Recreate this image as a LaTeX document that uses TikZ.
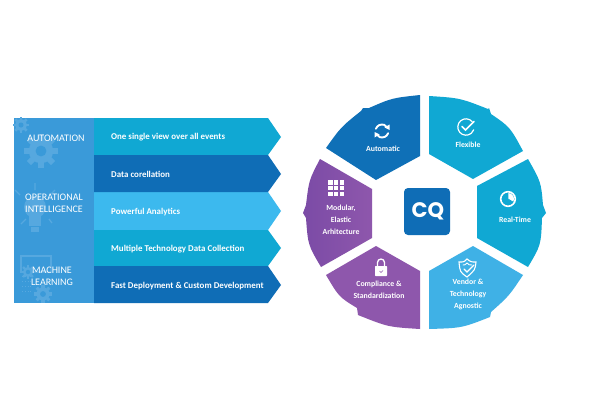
\documentclass[tikz,border=0pt]{standalone}
\usepackage{fontspec}
\setmainfont{Carlito}
\newfontfamily\cqfont{Poppins}
\definecolor{cteal}{HTML}{10A8D3}
\definecolor{cblue}{HTML}{0F6DB6}
\definecolor{clight}{HTML}{3CB9EE}
\definecolor{cpanel}{HTML}{3A9AD9}
\definecolor{cicon}{HTML}{56A8DF}
\definecolor{cpurp}{HTML}{8E57AC}
\definecolor{cpurpd}{HTML}{7B4BA6}
\definecolor{cvend}{HTML}{3FB1E6}
\tikzset{
 x=1pt,y=-1pt,
 bartext/.style={text=white,font=\bfseries\fontsize{8.9}{11}\selectfont,anchor=west,inner sep=0pt},
 paneltext/.style={text=white,font=\fontsize{10}{12}\selectfont,align=center,inner sep=0pt},
 segtext/.style={text=white,font=\bfseries\fontsize{7.8}{11.8}\selectfont,align=center,inner sep=0pt},
 wico/.style={draw=white,line width=1.4pt,fill=none,line cap=round},
 up/.style={y=1pt},
}
\newcommand{\gearshape}[4]{% x y radius colour
 \fill[#4] (#1,#2) circle (#3*0.72);
 \foreach \a in {0,45,...,315}{
  \fill[#4,shift={(#1,#2)},rotate=\a] (-#3*0.17,0) rectangle (#3*0.17,-#3);
 }
 \fill[cpanel] (#1,#2) circle (#3*0.32);
}
\begin{document}
\begin{tikzpicture}
\useasboundingbox (0,0) rectangle (594,420);
\fill[white] (0,0) rectangle (594,420);
% left panel
\fill[cpanel] (14,118) rectangle (94,303);
\gearshape{41}{151}{17}{cicon}
\gearshape{21}{125}{8}{cicon}
% bulb
\fill[cicon] (35,207) circle (11);
\fill[cicon] (29,214) rectangle (41,226);
\fill[cicon] (31,227) rectangle (39,232);
\draw[cicon,line width=1.3pt] (35,183) -- (35,190) (15,190) -- (20,195) (55,190) -- (50,195) (21,224) -- (26,219) (49,219) -- (52,223);
% monitor
\draw[cicon,line width=1.3pt] (21,256) rectangle (51,272);
\gearshape{28}{272}{7}{cicon}
\gearshape{43}{294}{9}{cicon}
\foreach \yy in {276,281,286,291}{\draw[cicon,line width=.8pt,dotted] (22,\yy) -- (31,\yy);}
% bars
\fill[cteal] (94,118) -- (268,118) -- (281,137) -- (268,155) -- (94,155) -- cycle;
\fill[clight] (94,192) -- (268,192) -- (281,211) -- (268,230) -- (94,230) -- cycle;
\fill[cblue] (94,155) -- (268,155) -- (281,174) -- (268,192) -- (94,192) -- cycle;
\fill[cteal] (94,230) -- (268,230) -- (281,248) -- (268,266) -- (94,266) -- cycle;
\fill[cblue] (94,266) -- (268,266) -- (281,285) -- (268,303) -- (94,303) -- cycle;
\node[paneltext] (pa) at (56,138.5) {AUTOMATION};
\node[paneltext] (pb) at (54,203) {OPERATIONAL\\INTELLIGENCE};
\node[paneltext] (pc) at (52,276) {MACHINE\\LEARNING};
\node[bartext] (b1) at (111,137.6) {One single view over all events};
\node[bartext] (b2) at (111,174.6) {Data corellation};
\node[bartext] (b3) at (111,211.6) {Powerful Analytics};
\node[bartext] (b4) at (111,249.6) {Multiple Technology Data Collection};
\node[bartext] (b5) at (111,285.6) {Fast Deployment \& Custom Development};
% segments
\fill[cblue!95!cteal] (420,95) -- (420,156) -- (376,180) -- (326,148) .. controls (341,127) .. (361,111) -- (363,108) -- (369,108) .. controls (392,98) .. (420,95) -- cycle;
\fill[cteal] (429,96) .. controls (460,98) .. (488,109) -- (489,108) -- (491,114) .. controls (510,127) .. (523,151) -- (473,179) -- (429,154) -- cycle;
\fill[cteal] (477,186) -- (528,159) .. controls (541,182) .. (543,205) -- (546,213) -- (542,218) .. controls (541,245) .. (528,267) -- (477,238) -- cycle;
\fill[cvend] (473,246) -- (523,275) .. controls (509,296) .. (491,312) -- (490,317) .. controls (462,328) .. (429,329) -- (429,271) -- cycle;
\fill[cpurp] (376,246) -- (420,271) -- (420,329) .. controls (388,327) .. (358,315) -- (357,308) .. controls (339,297) .. (326,275) -- cycle;
\shade[left color=cpurpd,right color=cpurp] (320,159) -- (372,189) -- (372,238) -- (321,267) .. controls (308,245) .. (306,218) -- (303,213) -- (306,205) .. controls (309,180) .. (320,159) -- cycle;
% centre
\fill[cblue,rounded corners=4pt] (404,188) rectangle (450,235);
\node[text=white,inner sep=0pt,font=\cqfont\bfseries\fontsize{21}{24}\selectfont] (cq) at (428,211.5) {CQ};
% labels
\node[segtext] (s1) at (383,149) {Automatic};
\node[segtext] (s2) at (468,145) {Flexible};
\node[segtext] (s3) at (515,220) {Real-Time};
\node[segtext] (s4) at (468,294.5) {Vendor \&\\Technology\\Agnostic};
\node[segtext] (s5) at (379,290) {Compliance \&\\Standardization};
\node[segtext] (s6) at (341,219.5) {Modular,\\Elastic\\Arhitecture};
% refresh icon
\begin{scope}[shift={(382,131)},up]
 \draw[wico,line width=1.9pt] (160:6.5) arc (160:30:6.5);
 \draw[wico,line width=1.9pt] (-20:6.5) arc (-20:-150:6.5);
 \fill[white] (7.5,1) -- (7.5,6.5) -- (2.5,3.5) -- cycle;
 \fill[white] (-7.5,-1) -- (-7.5,-6.5) -- (-2.5,-3.5) -- cycle;
\end{scope}
% check circle
\begin{scope}[shift={(466,127)},up]
 \draw[wico,line width=1.2pt] (40:8.2) arc (40:340:8.2);
 \draw[wico,line width=1.7pt] (-4,0.5) -- (-0.5,-3) -- (8,5.5);
\end{scope}
% clock
\begin{scope}[shift={(508,199)},up]
 \draw[wico,line width=1.6pt] (0,0) circle (7.3);
 \fill[white] (0,0) -- (0,6) arc (90:-30:6) -- cycle;
 \draw[cteal,line width=.7pt] (0,6) -- (0,0) -- (5,-3);
\end{scope}
% shield
\begin{scope}[shift={(467,267)},up]
 \draw[wico,line width=1.1pt] (-8,5) .. controls (-3,5) .. (0,8) .. controls (4,5) .. (9,5) .. controls (8,-3) .. (0,-10) .. controls (-7,-5) .. (-8,5) -- cycle;
 \draw[wico,line width=.9pt] (-4,2) .. controls (-2,2) .. (0,4) .. controls (2,2) .. (5,2);
 \draw[wico,line width=1.1pt] (-3,-2) -- (0,-5) -- (7,2);
\end{scope}
% lock
\fill[white,rounded corners=.6pt] (375,266) rectangle (387,276);
\begin{scope}[shift={(381,266)},up]
 \draw[wico,line width=1.3pt] (-3.5,0) -- (-3.5,3.5) arc (180:0:3.5) -- (3.5,0);
\end{scope}
\draw[cpurp,line width=.6pt] (379.5,271) -- (381,272.5) -- (383,270.5);
% grid
\foreach \i in {-1,0,1}{\foreach \j in {-1,0,1}{
 \fill[white] (336+\i*5.7-2.2,188+\j*5.7-2.2) rectangle (336+\i*5.7+2.2,188+\j*5.7+2.2);
}}
\end{tikzpicture}
\end{document}
